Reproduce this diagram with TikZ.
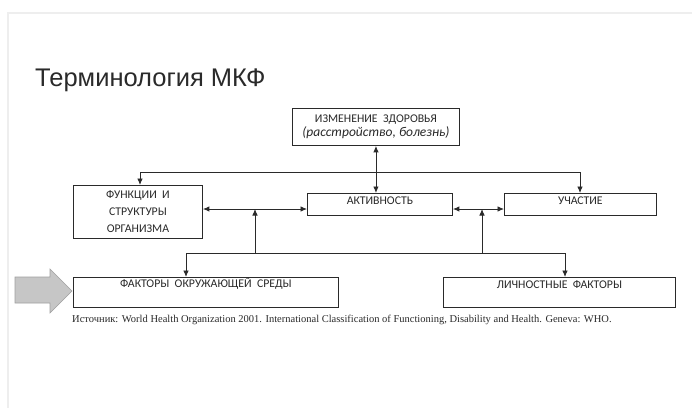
\documentclass[tikz,border=0pt]{standalone}
\usepackage{fontspec}
\setmainfont{Liberation Serif}
\newfontfamily\boxfont{Carlito}
\newfontfamily\headfont{Liberation Sans}
\usetikzlibrary{arrows.meta}
\definecolor{framegray}{HTML}{EEEEEE}
\definecolor{arrowgray}{HTML}{C6C6C6}
\definecolor{arrowedge}{HTML}{A0A0A0}
\definecolor{inkgray}{HTML}{2A2A2A}
\def\termnode{\node[draw=inkgray,line width=0.9pt,anchor=north west,inner sep=0pt,align=center,text=inkgray,font=\boxfont\fontsize{11.8}{16}\selectfont]}
\def\drawlink{\draw[color=inkgray,line width=0.9pt]}
\tikzset{tip/.style={-{Latex[length=6.5pt,width=5.5pt]}},
  twotips/.style={{Latex[length=6.5pt,width=5.5pt]}-{Latex[length=6.5pt,width=5.5pt]}}}

\begin{document}
\begin{tikzpicture}[x=1pt,y=-1pt]
\fill[white] (0,0) rectangle (692,408);
\useasboundingbox (0,0) rectangle (692,408);
\draw[color=framegray,line width=2pt] (8,408) -- (8,13) -- (692,13);
\node[anchor=base west,inner sep=0pt,text=inkgray,font=\headfont\fontsize{25.5}{30}\selectfont] (title) at (35,86) {Терминология МКФ};
\termnode[minimum width=167pt,minimum height=37pt] (health) at (292,108)
  {ИЗМЕНЕНИЕ\ \ ЗДОРОВЬЯ\\[-2pt] {\fontsize{13.5}{15}\selectfont\itshape (расстройство, болезнь)}};
\termnode[minimum width=129pt,minimum height=53pt,font=\boxfont\fontsize{11.8}{17}\selectfont] (body) at (73,185)
  {ФУНКЦИИ\ \ И\\СТРУКТУРЫ\\ОРГАНИЗМА};
\termnode[minimum width=145pt,text height=11pt,text depth=11pt] (activity) at (307,193) {АКТИВНОСТЬ};
\termnode[minimum width=152pt,text height=11pt,text depth=11pt] (part) at (504,193) {УЧАСТИЕ};
\termnode[minimum width=265pt,text height=10.5pt,text depth=19.5pt] (env) at (73,277) {ФАКТОРЫ\ \ ОКРУЖАЮЩЕЙ\ \ СРЕДЫ};
\termnode[minimum width=232pt,text height=11pt,text depth=19pt] (pers) at (443,277) {ЛИЧНОСТНЫЕ\ \ ФАКТОРЫ};
\coordinate (topL) at (140,172);
\coordinate (topR) at (580,172);
\coordinate (midL) at (255,209);
\coordinate (midR) at (482,209);
\coordinate (botL) at (186,253);
\coordinate (botR) at (565,253);
\drawlink[twotips] (health.south) -- (health.south |- activity.north);
\drawlink[twotips] (body.north -| topL) -- (topL) -- (topR) -- (part.north -| topR);
\drawlink[twotips] (body.east |- midL) -- (activity.west |- midL);
\drawlink[twotips] (activity.east |- midR) -- (part.west |- midR);
\drawlink[twotips] (env.north -| botL) -- (botL) -- (botR) -- (pers.north -| botR);
\drawlink[tip] (midL |- botL) -- (midL);
\drawlink[tip] (midR |- botL) -- (midR);
\draw[fill=arrowgray,draw=arrowedge,line width=0.6pt] (15,277) -- (50,277) -- (50,269) -- (72,291) -- (50,313) -- (50,303) -- (15,303) -- cycle;
\node[anchor=base west,inner sep=0pt,text=inkgray,font=\fontsize{10.5}{12}\selectfont] (source) at (72,322)
  {Источник: World Health Organization 2001. International Classification of Functioning, Disability and Health. Geneva: WHO.};
\end{tikzpicture}
\end{document}
